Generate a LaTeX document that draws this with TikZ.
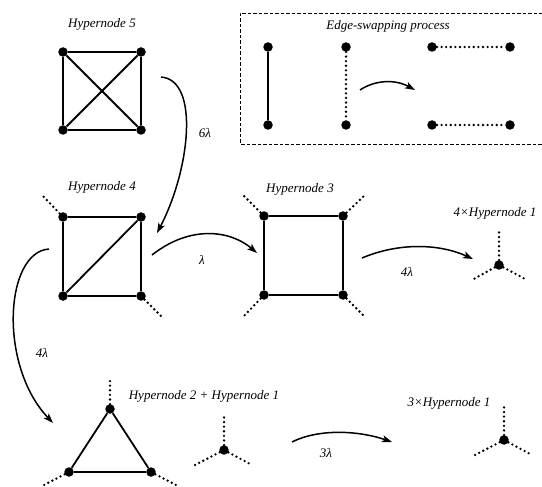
\documentclass[tikz,border=0pt]{standalone}
\usepackage{fontspec}
\setmainfont{Liberation Serif}
\usetikzlibrary{arrows.meta}
\begin{document}
\begin{tikzpicture}[x=1pt,y=-1pt,
  vtx/.style={circle,fill=black,inner sep=0pt,minimum size=9.5pt},
  edge/.style={line width=1.8pt},
  stub/.style={line width=2.6pt,line cap=round,dash pattern=on 0pt off 4.6pt},
  arr/.style={line width=1.5pt,-{Stealth[length=10pt,width=7pt,inset=2.5pt]}},
  lbl/.style={font=\fontsize{13}{15}\selectfont\itshape,inner sep=0pt}]
\useasboundingbox (0,0) rectangle (542,487);
\fill[white] (0,0) rectangle (542,487);

% Edge-swapping box
\draw[line width=0.9pt,dash pattern=on 3.5pt off 2pt] (548,13) -- (240,13) -- (240,144) -- (548,144);
\node[lbl] (tes) at (388,26) {Edge-swapping process};
\node[vtx] (g1) at (268,47) {};
\node[vtx] (g2) at (268,125) {};
\node[vtx] (g3) at (346,47) {};
\node[vtx] (g4) at (346,125) {};
\node[vtx] (g5) at (432,47) {};
\node[vtx] (g6) at (510,47) {};
\node[vtx] (g7) at (432,125) {};
\node[vtx] (g8) at (510,125) {};
\draw[edge] (g1) -- (g2);
\draw[stub] (g3) -- (g4);
\draw[stub] (g5) -- (g6);
\draw[stub] (g7) -- (g8);
\coordinate (es1) at (360,90);
\coordinate (es2) at (415,90);
\draw[arr] (es1) .. controls (375,80) and (395,79) .. (es2);

% Hypernode 5
\node[lbl] (t5) at (102,24) {Hypernode 5};
\node[vtx] (a1) at (63,52) {};
\node[vtx] (a2) at (141,52) {};
\node[vtx] (a3) at (63,130) {};
\node[vtx] (a4) at (141,130) {};
\draw[edge] (a1) -- (a2) -- (a4) -- (a3) -- (a1);
\draw[edge] (a1) -- (a4);
\draw[edge] (a2) -- (a3);

% Hypernode 4
\node[lbl] (t4) at (102,187) {Hypernode 4};
\node[vtx] (b1) at (63,217) {};
\node[vtx] (b2) at (141,217) {};
\node[vtx] (b3) at (63,296) {};
\node[vtx] (b4) at (141,296) {};
\draw[edge] (b1) -- (b2) -- (b4) -- (b3) -- (b1);
\draw[edge] (b3) -- (b2);
\coordinate (b1s) at (42,195);
\coordinate (b4s) at (163,318);
\draw[stub] (b1) -- (b1s);
\draw[stub] (b4) -- (b4s);

% Hypernode 3
\node[lbl] (t3) at (300,189) {Hypernode 3};
\node[vtx] (c1) at (264,216) {};
\node[vtx] (c2) at (343,216) {};
\node[vtx] (c3) at (264,295) {};
\node[vtx] (c4) at (343,295) {};
\draw[edge] (c1) -- (c2) -- (c4) -- (c3) -- (c1);
\coordinate (c1s) at (243,195);
\coordinate (c2s) at (365,195);
\coordinate (c3s) at (243,317);
\coordinate (c4s) at (365,317);
\draw[stub] (c1) -- (c1s);
\draw[stub] (c2) -- (c2s);
\draw[stub] (c3) -- (c3s);
\draw[stub] (c4) -- (c4s);

% 4 x Hypernode 1
\node[lbl] (t41) at (495,213) {4×Hypernode 1};
\node[vtx] (d) at (499,265) {};
\coordinate (d1) at (499,232);
\coordinate (d2) at (472,280);
\coordinate (d3) at (527,280);
\draw[stub] (d) -- (d1);
\draw[stub] (d) -- (d2);
\draw[stub] (d) -- (d3);

% Hypernode 2 + Hypernode 1
\node[lbl] (t21) at (204,396) {Hypernode 2 + Hypernode 1};
\node[vtx] (p1) at (110,409) {};
\node[vtx] (p2) at (69,472) {};
\node[vtx] (p3) at (151,472) {};
\draw[edge] (p1) -- (p2) -- (p3) -- (p1);
\coordinate (p1s) at (110,379);
\coordinate (p2s) at (42,486);
\coordinate (p3s) at (178,486);
\draw[stub] (p1) -- (p1s);
\draw[stub] (p2) -- (p2s);
\draw[stub] (p3) -- (p3s);
\node[vtx] (e) at (224,450) {};
\coordinate (e1) at (224,417);
\coordinate (e2) at (195,465);
\coordinate (e3) at (252,465);
\draw[stub] (e) -- (e1);
\draw[stub] (e) -- (e2);
\draw[stub] (e) -- (e3);

% 3 x Hypernode 1
\node[lbl] (t31) at (449,403) {3×Hypernode 1};
\node[vtx] (f) at (504,440) {};
\coordinate (f1) at (504,407);
\coordinate (f2) at (475,455);
\coordinate (f3) at (532,455);
\draw[stub] (f) -- (f1);
\draw[stub] (f) -- (f2);
\draw[stub] (f) -- (f3);

% transition arrows
\coordinate (r1s) at (161,77);
\coordinate (r1e) at (157,233);
\draw[arr] (r1s) .. controls (200,80) and (190,170) .. (r1e);
\node[lbl] (l6) at (205,133) {6λ};

\coordinate (r2s) at (152,255);
\coordinate (r2e) at (257,253);
\draw[arr] (r2s) .. controls (190,225) and (230,230) .. (r2e);
\node[lbl] (l1) at (202,260) {λ};

\coordinate (r3s) at (362,258);
\coordinate (r3e) at (473,259);
\draw[arr] (r3s) .. controls (400,242) and (440,244) .. (r3e);
\node[lbl] (l4a) at (407,272) {4λ};

\coordinate (r4s) at (49,249);
\coordinate (r4e) at (53,423);
\draw[arr] (r4s) .. controls (5,252) and (-2,365) .. (r4e);
\node[lbl] (l4b) at (42,353) {4λ};

\coordinate (r5s) at (292,442);
\coordinate (r5e) at (392,442);
\draw[arr] (r5s) .. controls (320,428) and (360,431) .. (r5e);
\node[lbl] (l3) at (326,453) {3λ};
\end{tikzpicture}
\end{document}
